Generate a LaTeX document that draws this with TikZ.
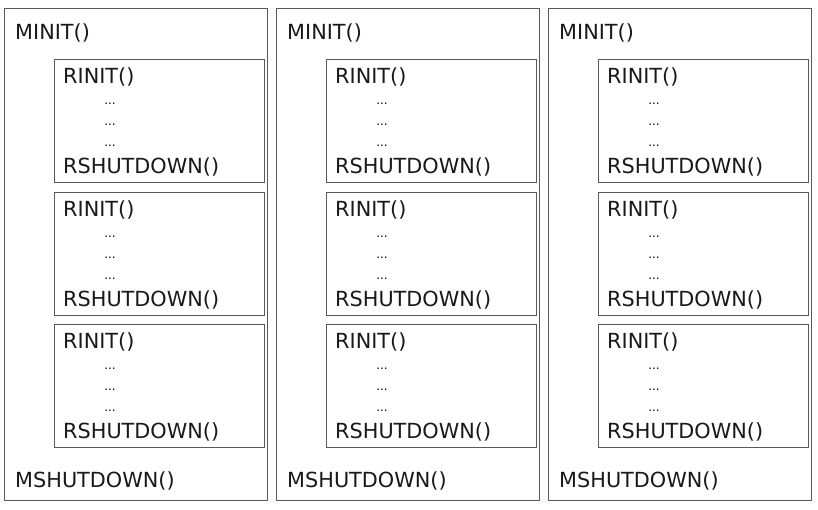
\documentclass[tikz,border=0pt]{standalone}
\usepackage{fontspec}
\setmainfont{DejaVu Sans}
\begin{document}
\begin{tikzpicture}[x=1pt,y=-1pt,
  box/.style={draw=black!65,line width=0.8pt},
  lbl/.style={anchor=west,inner sep=0,font=\fontsize{20.8}{21}\selectfont,text=black!90},
  dots/.style={anchor=center,inner sep=0,font=\fontsize{12}{13}\selectfont}]
\useasboundingbox (0,0) rectangle (818,509);
\fill[white] (0,0) rectangle (818,509);
\foreach \c/\x in {1/4,2/276,3/548}{
  \draw[box] (\x,8) rectangle ++(263,492);
  \node[lbl] (m\c) at (\x+11,33) {MINIT()};
  \node[lbl] (ms\c) at (\x+11,481) {MSHUTDOWN()};
  \foreach \r/\y in {1/59,2/192,3/324}{
    \draw[box] (\x+50,\y) rectangle ++(210,123);
    \node[lbl] (ri\c\r) at (\x+59,\y+18) {RINIT()};
    \node[dots] at (\x+106,\y+45) {...};
    \node[dots] at (\x+106,\y+66) {...};
    \node[dots] at (\x+106,\y+87) {...};
    \node[lbl] (rs\c\r) at (\x+59,\y+108) {RSHUTDOWN()};
  }
}
\end{tikzpicture}
\end{document}
